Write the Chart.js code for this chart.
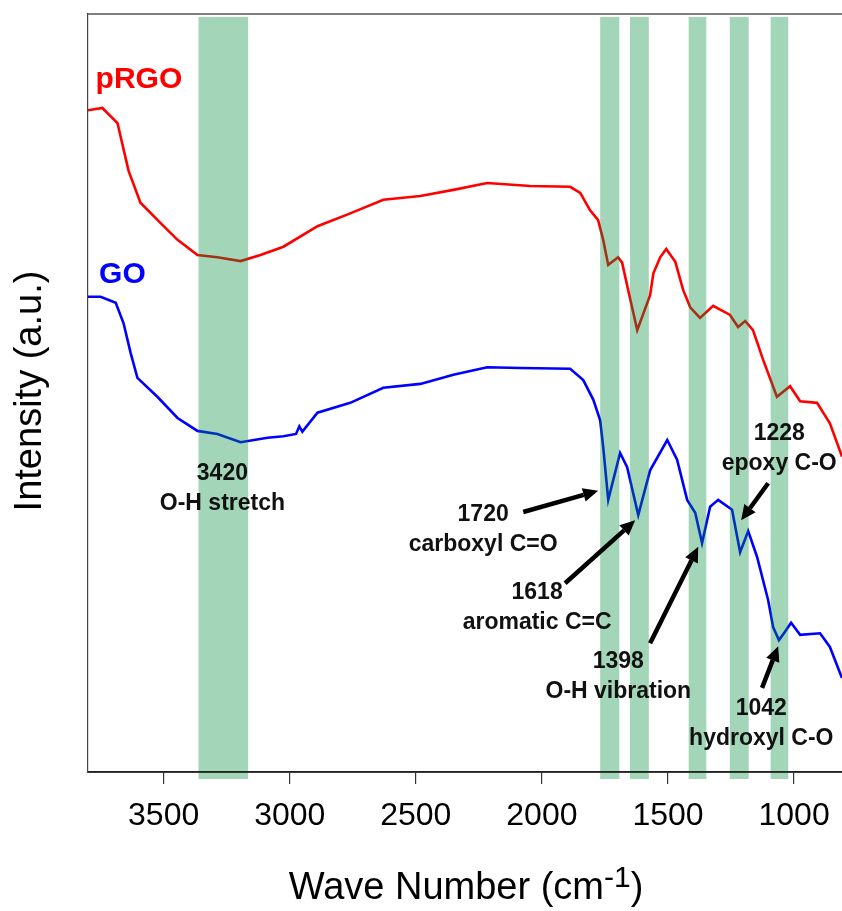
<!DOCTYPE html>
<html>
<head>
<meta charset="utf-8">
<script src="https://cdn.jsdelivr.net/npm/chart.js@4.4.1/dist/chart.umd.min.js"></script>
<style>
body { margin: 0; background: #fff; overflow: hidden; }
#wrap { width: 842px; height: 911px; }
</style>
</head>
<body>
<div id="wrap"><canvas id="ftir"></canvas></div>
<script>
// tick values on the wave number axis
const xTicks = [3500, 3000, 2500, 2000, 1500, 1000];

// pRGO spectrum (wave number, intensity a.u.)
const rgoWave = [3800, 3743, 3683, 3639, 3592, 3512, 3445, 3366, 3287, 3195, 3116, 3025, 2890, 2760, 2629, 2482, 2351, 2217, 2046, 1888, 1848, 1809, 1777, 1757, 1737, 1698, 1682, 1658, 1622, 1571, 1558, 1531, 1507, 1471, 1440, 1412, 1373, 1321, 1254, 1222, 1194, 1163, 1123, 1068, 1016, 976, 909, 858, 810];
const rgoInt = [87.3, 87.6, 85.6, 79.3, 75.1, 72.4, 70.2, 68.2, 67.9, 67.4, 68.2, 69.3, 72.0, 73.7, 75.5, 76.0, 76.8, 77.7, 77.3, 77.2, 76.4, 74.1, 72.8, 70.2, 66.9, 67.9, 67.2, 63.6, 58.3, 62.9, 65.8, 67.9, 69.0, 67.3, 63.6, 61.3, 59.9, 61.5, 60.3, 58.7, 59.5, 58.3, 54.4, 49.5, 50.9, 48.9, 48.7, 46.0, 41.6];

// GO spectrum
const goWave = [3800, 3750, 3690, 3659, 3631, 3604, 3525, 3445, 3366, 3287, 3195, 3088, 3025, 2975, 2962, 2950, 2890, 2760, 2629, 2482, 2351, 2217, 2086, 1888, 1836, 1796, 1769, 1757, 1737, 1690, 1662, 1618, 1571, 1503, 1464, 1424, 1392, 1365, 1333, 1301, 1246, 1214, 1182, 1147, 1103, 1083, 1060, 1036, 1012, 976, 897, 858, 810];
const goInt = [62.7, 62.7, 61.9, 59.2, 55.3, 52.0, 49.5, 46.7, 45.0, 44.6, 43.5, 44.1, 44.3, 44.6, 45.6, 44.9, 47.4, 48.7, 50.7, 51.2, 52.4, 53.4, 53.3, 53.2, 51.7, 49.1, 46.4, 42.9, 35.9, 42.1, 40.2, 33.9, 39.8, 43.8, 41.2, 35.9, 34.2, 30.2, 35.0, 35.9, 34.6, 29.0, 31.8, 28.4, 22.7, 19.1, 17.4, 18.5, 19.7, 18.1, 18.3, 16.5, 12.4];

// shaded absorption bands (wave number from / to)
const bandFrom = [3362, 1769, 1651, 1418, 1255, 1093];
const bandTo = [3165, 1693, 1576, 1348, 1180, 1023];

// peak annotations
const peakNum = ['3420', '1720', '1618', '1398', '1228', '1042'];
const peakName = ['O-H stretch', 'carboxyl C=O', 'aromatic C=C', 'O-H vibration', 'epoxy C-O', 'hydroxyl C-O'];
const peakTextWave = [3267, 2233, 2019, 1697, 1059, 1130];
const peakTextInt = [39.4, 33.9, 23.6, 14.5, 44.7, 8.3];
// arrows: null for no arrow
const arrowTail = [null, [2074, 34.3], [1908, 24.9], [1571, 17.0], [1103, 38.1], [1127, 11.1]];
const arrowHead = [null, [1777, 37.1], [1630, 33.2], [1380, 29.7], [1210, 33.2], [1063, 16.6]];

const FONT = '"Liberation Sans", Arial, sans-serif';

function arrow(ctx, x1, y1, x2, y2) {
    const ang = Math.atan2(y2 - y1, x2 - x1);
    const hl = 15, hw = 7;
    const bx = x2 - hl * Math.cos(ang), by = y2 - hl * Math.sin(ang);
    ctx.beginPath();
    ctx.moveTo(x1, y1);
    ctx.lineTo(bx, by);
    ctx.stroke();
    ctx.beginPath();
    ctx.moveTo(x2, y2);
    ctx.lineTo(bx + hw * Math.sin(ang), by - hw * Math.cos(ang));
    ctx.lineTo(bx - hw * Math.sin(ang), by + hw * Math.cos(ang));
    ctx.closePath();
    ctx.fill();
}

const overlay = {
    id: 'overlay',
    afterDatasetsDraw(chart) {
        const { ctx, chartArea: a, scales: { x } } = chart;
        ctx.save();
        ctx.fillStyle = 'rgba(0,141,62,0.36)';
        bandFrom.forEach((f, i) => {
            const x1 = x.getPixelForValue(f), x2 = x.getPixelForValue(bandTo[i]);
            ctx.fillRect(x1, a.top + 3, x2 - x1, a.bottom - a.top + 4);
        });
        ctx.restore();
    },
    afterDraw(chart) {
        const { ctx, chartArea: a, scales: { x, y } } = chart;
        ctx.save();

        // frame lines
        ctx.strokeStyle = '#555';
        ctx.lineWidth = 1.5;
        ctx.beginPath();
        ctx.moveTo(a.left, a.top);
        ctx.lineTo(a.right, a.top);
        ctx.stroke();
        ctx.strokeStyle = '#222';
        ctx.beginPath();
        ctx.moveTo(a.left, a.bottom);
        ctx.lineTo(a.right, a.bottom);
        ctx.stroke();

        // series names
        ctx.font = 'bold 30px ' + FONT;
        ctx.textAlign = 'left';
        ctx.textBaseline = 'alphabetic';
        ctx.fillStyle = '#ff0000';
        ctx.fillText('pRGO', x.getPixelForValue(3770), y.getPixelForValue(90.2));
        ctx.fillStyle = '#0000ff';
        ctx.fillText('GO', x.getPixelForValue(3756), y.getPixelForValue(64.5));

        // peak labels
        ctx.fillStyle = '#111';
        ctx.font = 'bold 23px ' + FONT;
        ctx.textAlign = 'center';
        ctx.textBaseline = 'middle';
        peakNum.forEach((n, i) => {
            const px = x.getPixelForValue(peakTextWave[i]);
            const py = y.getPixelForValue(peakTextInt[i]);
            ctx.fillText(n, px, py);
            ctx.fillText(peakName[i], px, py + 30);
        });

        // arrows
        ctx.strokeStyle = '#000';
        ctx.fillStyle = '#000';
        ctx.lineWidth = 4.5;
        arrowTail.forEach((t, i) => {
            if (!t) return;
            const h = arrowHead[i];
            arrow(ctx, x.getPixelForValue(t[0]), y.getPixelForValue(t[1]),
                x.getPixelForValue(h[0]), y.getPixelForValue(h[1]));
        });

        // axis titles
        ctx.fillStyle = '#000';
        ctx.textBaseline = 'alphabetic';
        ctx.textAlign = 'left';
        const main = 'Wave Number (cm', sup = '-1', end = ')';
        ctx.font = '38px ' + FONT;
        const w1 = ctx.measureText(main).width, w3 = ctx.measureText(end).width;
        ctx.font = '30px ' + FONT;
        const w2 = ctx.measureText(sup).width;
        let tx = 466 - (w1 + w2 + w3) / 2;
        ctx.font = '38px ' + FONT;
        ctx.fillText(main, tx, 899);
        ctx.font = '30px ' + FONT;
        ctx.fillText(sup, tx + w1, 887);
        ctx.font = '38px ' + FONT;
        ctx.fillText(end, tx + w1 + w2, 899);

        ctx.translate(31, 391);
        ctx.rotate(-Math.PI / 2);
        ctx.textAlign = 'center';
        ctx.textBaseline = 'middle';
        ctx.fillText('Intensity (a.u.)', 0, 0);
        ctx.restore();
    }
};

const toPts = (xs, ys) => xs.map((v, i) => ({ x: v, y: ys[i] }));

new Chart(document.getElementById('ftir'), {
    type: 'line',
    data: {
        datasets: [
            { label: 'pRGO', data: toPts(rgoWave, rgoInt), borderColor: '#ff0000', borderWidth: 2.6, pointRadius: 0, tension: 0 },
            { label: 'GO', data: toPts(goWave, goInt), borderColor: '#0000ff', borderWidth: 2.6, pointRadius: 0, tension: 0 }
        ]
    },
    options: {
        responsive: true,
        maintainAspectRatio: false,
        animation: false,
        layout: { padding: { top: 14, left: 0, right: 0, bottom: 0 } },
        plugins: { legend: { display: false }, tooltip: { enabled: false } },
        scales: {
            x: {
                type: 'linear',
                reverse: true,
                min: 810,
                max: 3800,
                afterBuildTicks: s => { s.ticks = xTicks.map(v => ({ value: v })); },
                afterFit: s => { s.height = 139; s.paddingLeft = 0; s.paddingRight = 0; },
                ticks: { color: '#000', font: { family: FONT, size: 32 }, padding: 13, maxRotation: 0, callback: v => String(v) },
                grid: { display: true, drawOnChartArea: false, drawTicks: true, tickLength: 12, color: '#333', lineWidth: 1.2 },
                border: { display: true, color: '#222', width: 1.5 }
            },
            y: {
                min: 0,
                max: 100,
                afterFit: s => { s.width = 88; },
                ticks: { display: false },
                grid: { display: false, drawTicks: false },
                border: { display: true, color: '#444', width: 1.2 }
            }
        }
    },
    plugins: [overlay]
});
</script>
</body>
</html>
